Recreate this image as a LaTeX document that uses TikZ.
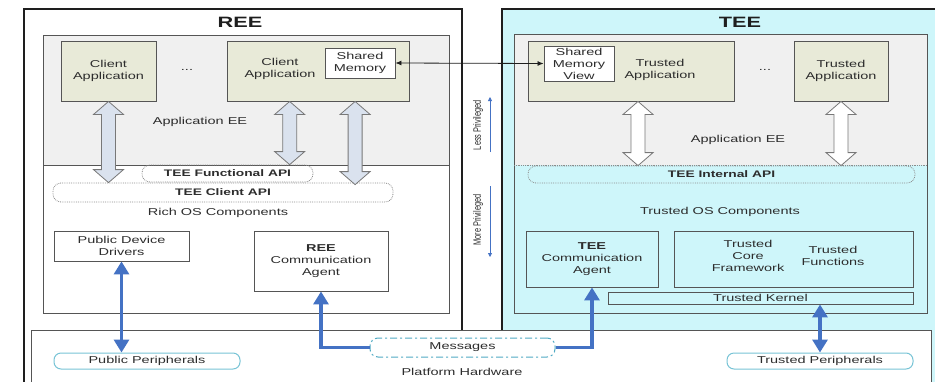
\documentclass[tikz,border=0pt]{standalone}
\usepackage{fontspec}
\setmainfont[FakeStretch=1.45]{Liberation Sans}
\newfontfamily\plainsans{Liberation Sans}
\usetikzlibrary{arrows.meta,calc}

\definecolor{txt}{RGB}{45,45,45}
\definecolor{frame}{RGB}{30,30,30}
\definecolor{boxln}{RGB}{85,85,85}
\definecolor{teecyan}{RGB}{206,246,250}
\definecolor{eegray}{RGB}{240,240,240}
\definecolor{appolive}{RGB}{232,234,216}
\definecolor{hwblue}{RGB}{68,114,196}
\definecolor{fatfill}{RGB}{218,226,238}
\definecolor{fatln}{RGB}{120,120,120}
\definecolor{apiln}{RGB}{140,140,140}
\definecolor{periph}{RGB}{120,196,214}
\definecolor{msgln}{RGB}{80,170,196}

% hollow double-headed arrow between a top and a bottom point
\newcommand{\fatarrow}[3]{%
  \draw[#1] (#2) -- ++(15,13) -- ++(-8,0) -- ($(#3)+(7,-13)$) -- ++(8,0)
    -- (#3) -- ++(-15,-13) -- ++(8,0) -- ($(#2)+(-7,13)$) -- ++(-8,0) -- cycle;}

\begin{document}
\begin{tikzpicture}[x=1pt,y=-1pt,
  every node/.style={text=txt, font=\fontsize{10}{12}\selectfont, align=center, inner sep=0pt},
  title/.style={font=\fontsize{15}{18}\selectfont\bfseries, text=frame},
  appbox/.style={draw=boxln, line width=0.9pt, fill=appolive},
  membox/.style={draw=boxln, line width=0.9pt, fill=white},
  osbox/.style={draw=boxln, line width=0.9pt},
  api/.style={draw=apiln, densely dotted, line width=0.8pt, rounded corners=8pt,
    font=\fontsize{9.5}{11}\selectfont\bfseries},
  periphbox/.style={draw=periph, line width=1pt, rounded corners=7pt, fill=white},
  msgbox/.style={draw=msgln, line width=1pt, rounded corners=8pt,
    dash pattern=on 7pt off 3pt on 2pt off 3pt, fill=white},
  fatree/.style={draw=fatln, fill=fatfill, line width=0.8pt},
  fattee/.style={draw=fatln, fill=white, line width=0.8pt},
  hwlink/.style={draw=hwblue, line width=3.5pt},
  privlink/.style={draw=hwblue, line width=0.8pt, -{Triangle[width=4pt,length=4pt]}},
  privtext/.style={rotate=90, font=\plainsans\fontsize{7.4}{9}\selectfont},
]
\useasboundingbox (0,0) rectangle (935,381);
\fill[white] (0,0) rectangle (935,381);
\begin{scope}
\clip (0,0) rectangle (935,381);

% outer execution environments
\draw[frame, line width=1.4pt, fill=white] (24,9) rectangle (462,400);
\draw[frame, line width=1.4pt, fill=teecyan] (502,9) rectangle (945,400);
% platform hardware
\draw[boxln, line width=1pt, fill=white] (31,330) rectangle (931,400);

% REE inner area
\fill[eegray] (43,35) rectangle (449,165);
\draw[boxln, line width=0.9pt] (43,35) rectangle (449,313);
\draw[boxln, line width=0.7pt] (43,165) -- (449,165);
% TEE inner area
\fill[eegray] (514,34) rectangle (927,165);
\draw[boxln, line width=0.9pt] (514,34) rectangle (927,313);
\draw[apiln, densely dotted, line width=0.8pt] (514,165) -- (927,165);
\end{scope}

% titles
\node[title] (reet) at (240,22) {REE};
\node[title] (teet) at (740,22) {TEE};

% REE applications
\node[appbox, minimum width=95pt, minimum height=60pt] (ca1) at (108.5,71) {Client\\Application};
\node (dots1) at (187,70) {...};
\node[appbox, minimum width=182pt, minimum height=60pt] (ca2) at (318,71) {};
\node (ca2l) at (280,69) {Client\\Application};
\node[membox, minimum width=70pt, minimum height=30pt] (sm) at (360,63) {Shared\\Memory};
\node (reeee) at (200,122) {Application EE};

% REE APIs and OS
\node[api, minimum width=171pt, minimum height=17pt] (fapi) at (227.5,173.5) {TEE Functional API};
\node[api, minimum width=340pt, minimum height=19pt] (capi) at (223,192.5) {TEE Client API};
\node (richos) at (218,213) {Rich OS Components};
\node[osbox, minimum width=135pt, minimum height=30pt] (pdd) at (121.5,246) {Public Device\\Drivers};
\node[osbox, minimum width=134pt, minimum height=60pt] (rca) at (321,261) {\textbf{REE}\\Communication\\Agent};

% TEE applications
\node[appbox, minimum width=206pt, minimum height=60pt] (ta1) at (631,71) {};
\node (ta1l) at (660,70) {Trusted\\Application};
\node[membox, minimum width=70pt, minimum height=35pt] (smv) at (579,63.5) {Shared\\Memory\\View};
\node (dots2) at (765,70) {...};
\node[appbox, minimum width=94pt, minimum height=60pt] (ta2) at (841,71) {Trusted\\Application};
\node (teeee) at (738,140) {Application EE};

% TEE APIs and OS
\node[api, minimum width=387pt, minimum height=17pt] (iapi) at (721.5,174.5) {TEE Internal API};
\node (trustos) at (720,212) {Trusted OS Components};
\node[osbox, minimum width=132pt, minimum height=56pt] (tca) at (592,259) {\textbf{TEE}\\Communication\\Agent};
\node[osbox, minimum width=239pt, minimum height=56pt] (tcf) at (793.5,259) {};
\node (tcfl) at (748,256) {Trusted\\Core\\Framework};
\node (tfl) at (833,256) {Trusted\\Functions};
\node[osbox, minimum width=305pt, minimum height=12pt] (tk) at (760.5,298) {Trusted Kernel};

% hardware
\node[periphbox, minimum width=186pt, minimum height=16pt] (pp) at (147,361) {Public Peripherals};
\node[periphbox, minimum width=186pt, minimum height=16pt] (tp) at (820,361) {Trusted Peripherals};
\node[msgbox, minimum width=185pt, minimum height=19pt] (msg) at (462.5,347.5) {Messages};
\node (phw) at (462,372) {Platform Hardware};

% privilege indicators
\node[privtext] (lessp) at (478,125) {\scalebox{1}[1.45]{Less Privileged}};
\node[privtext] (morep) at (478,220) {\scalebox{1}[1.45]{More Privileged}};
\coordinate (lpa) at (490,152);
\coordinate (lpb) at (490,97);
\coordinate (mpa) at (490,186);
\coordinate (mpb) at (490,257);
\draw[privlink] (lpa) -- (lpb);
\draw[privlink] (mpa) -- (mpb);

% shared memory mapping
\draw[frame, line width=0.8pt, {Latex[length=6pt,width=5pt]}-{Latex[length=6pt,width=5pt]}] (sm.east) -- (smv.west);

% API calls (hollow arrows)
\coordinate (f1t) at (ca1.south);
\coordinate (f1b) at (f1t |- capi.north);
\coordinate (f2t) at ($(ca2.south west)!0.345!(ca2.south east)$);
\coordinate (f2b) at (f2t |- fapi.north);
\coordinate (f3t) at ($(ca2.south west)!0.703!(ca2.south east)$);
\coordinate (f3b) at ($(f3t |- capi.north)+(0,2)$);
\coordinate (f4t) at ($(ta1.south west)!0.534!(ta1.south east)$);
\coordinate (f4b) at (f4t |- iapi.north);
\coordinate (f5t) at (ta2.south);
\coordinate (f5b) at (f5t |- iapi.north);
\fatarrow{fatree}{f1t}{f1b}
\fatarrow{fatree}{f2t}{f2b}
\fatarrow{fatree}{f3t}{f3b}
\fatarrow{fattee}{f4t}{f4b}
\fatarrow{fattee}{f5t}{f5b}

% hardware links
\draw[hwlink, {Triangle[width=15pt,length=13pt]}-{Triangle[width=15pt,length=13pt]}] (pdd.south) -- (pdd.south |- pp.north);
\draw[hwlink, -{Triangle[width=15pt,length=13pt]}] (msg.west) -| (rca.south);
\draw[hwlink, -{Triangle[width=15pt,length=13pt]}] (msg.east) -| (tca.south);
\draw[hwlink, {Triangle[width=15pt,length=13pt]}-{Triangle[width=15pt,length=13pt]}] (tp.north) -- (tp.north |- tk.south);
\end{tikzpicture}
\end{document}
